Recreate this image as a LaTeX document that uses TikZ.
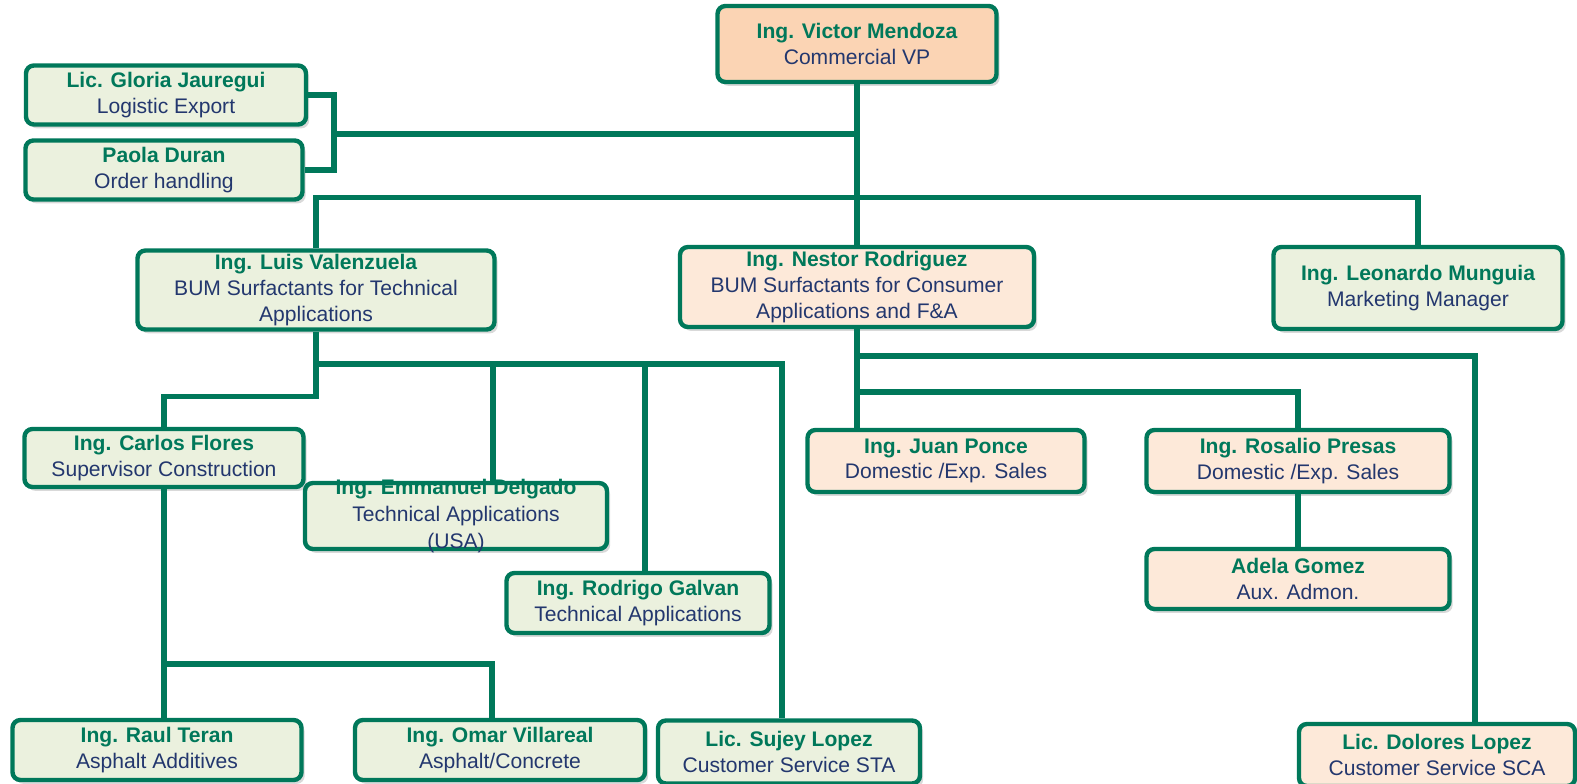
\documentclass[tikz,border=0pt]{standalone}
\usepackage{fontspec}
\setmainfont{Liberation Sans}
\usetikzlibrary{shadows}
\definecolor{orggreen}{RGB}{0,120,90}
\definecolor{orgnavy}{RGB}{35,55,110}
\definecolor{techfill}{RGB}{235,241,222}
\definecolor{consfill}{RGB}{253,233,217}
\definecolor{vpfill}{RGB}{251,212,180}
\newcommand{\who}[1]{{\bfseries\color{orggreen}#1}}

\begin{document}
\begin{tikzpicture}[x = 0.2mm, y = -0.2mm,
  card/.style={draw = orggreen, line width = 2.5pt, rounded corners = 4.5pt, align = center, text = orgnavy, inner sep = 1pt, font = \fontsize{12}{14.6}\selectfont, drop shadow = {shadow xshift = 1.8pt, shadow yshift = -2.2pt, opacity = 0.3}},
  tech/.style={fill = techfill}, cons/.style={fill = consfill}, vpbox/.style={fill = vpfill},
  wh/.style 2 args={minimum width = #1*0.2mm, minimum height = #2*0.2mm},
  link/.style={draw = orggreen, line width = 3pt}]

  \useasboundingbox (0, 0) rectangle (1577, 783);

  \node[card, vpbox, wh = {279}{76}] (vp) at (857, 44) {\who{Ing. Victor Mendoza}\\Commercial VP};

  \node[card, tech, wh = {280}{59}] (gloria) at (166, 95) {\who{Lic. Gloria Jauregui}\\Logistic Export};
  \node[card, tech, wh = {277}{59}] (paola) at (164, 170) {\who{Paola Duran}\\Order handling};

  \node[card, tech, wh = {357}{79}] (luis) at (316, 290) {\who{Ing. Luis Valenzuela}\\BUM Surfactants for Technical\\Applications};
  \node[card, cons, wh = {354}{80}] (nestor) at (857, 287) {\who{Ing. Nestor Rodriguez}\\BUM Surfactants for Consumer\\Applications and F\&A};
  \node[card, tech, wh = {289}{82}] (leo) at (1418, 288) {\who{Ing. Leonardo Munguia}\\Marketing Manager};

  \node[card, tech, wh = {279}{58}] (carlos) at (164, 458) {\who{Ing. Carlos Flores}\\Supervisor Construction};
  \node[card, tech, wh = {302}{66}, inner ysep = -3pt, font = \fontsize{12}{15.2}\selectfont] (emm) at (456, 516) {\who{Ing. Emmanuel Delgado}\\Technical Applications\\(USA)};
  \node[card, tech, wh = {263}{60}] (rodrigo) at (638, 603) {\who{Ing. Rodrigo Galvan}\\Technical Applications};

  \node[card, tech, wh = {289}{60}] (raul) at (157, 750) {\who{Ing. Raul Teran}\\Asphalt Additives};
  \node[card, tech, wh = {290}{60}] (omar) at (500, 750) {\who{Ing. Omar Villareal}\\Asphalt/Concrete};
  \node[card, tech, wh = {262}{63}] (sujey) at (789, 752) {\who{Lic. Sujey Lopez}\\Customer Service STA};

  \node[card, cons, wh = {277}{62}] (juan) at (946, 461) {\who{Ing. Juan Ponce}\\Domestic /Exp. Sales};
  \node[card, cons, wh = {303}{62}] (rosalio) at (1298, 461) {\who{Ing. Rosalio Presas}\\Domestic /Exp. Sales};
  \node[card, cons, wh = {303}{60}] (adela) at (1298, 579) {\who{Adela Gomez}\\Aux. Admon.};
  \node[card, cons, wh = {276}{62}] (dolores) at (1437, 755) {\who{Lic. Dolores Lopez}\\Customer Service SCA};

  \coordinate (brk) at (334, 134);
  \coordinate (tbus) at (316, 364);
  \coordinate (emmdrop) at (493, 364);
  \coordinate (roddrop) at (645, 364);
  \coordinate (sujdrop) at (782, 364);
  \coordinate (cbus) at (164, 664);
  \coordinate (omdrop) at (492, 664);
  \coordinate (nbus) at (857, 392);
  \coordinate (doldrop) at (1475, 356);

  \draw[link] (vp.south) -- (nestor.north);
  \draw[link] (gloria.east) -| (brk) |- (paola.east);
  \draw[link] (brk) -- (brk -| vp.south);
  \draw[link] (luis.north) -- ++(0, -51) -| (leo.north);

  \draw[link] (luis.south) -- ++(0, 65) -| (carlos.north);
  \draw[link] (tbus) -- (sujdrop) -- (sujdrop |- sujey.north);
  \draw[link] (emmdrop) -- (emm.north -| emmdrop);
  \draw[link] (roddrop) -- (rodrigo.north -| roddrop);
  \draw[link] (carlos.south) -- (carlos.south |- raul.north);
  \draw[link] (cbus) -- (omdrop) -- (omdrop |- omar.north);

  \draw[link] (nestor.south) -- (nestor.south |- juan.north);
  \draw[link] (nbus) -| (rosalio.north);
  \draw[link] (rosalio.south) -- (adela.north);
  \draw[link] (doldrop -| nestor.south) -- (doldrop) -- (doldrop |- dolores.north);

\end{tikzpicture}
\end{document}
